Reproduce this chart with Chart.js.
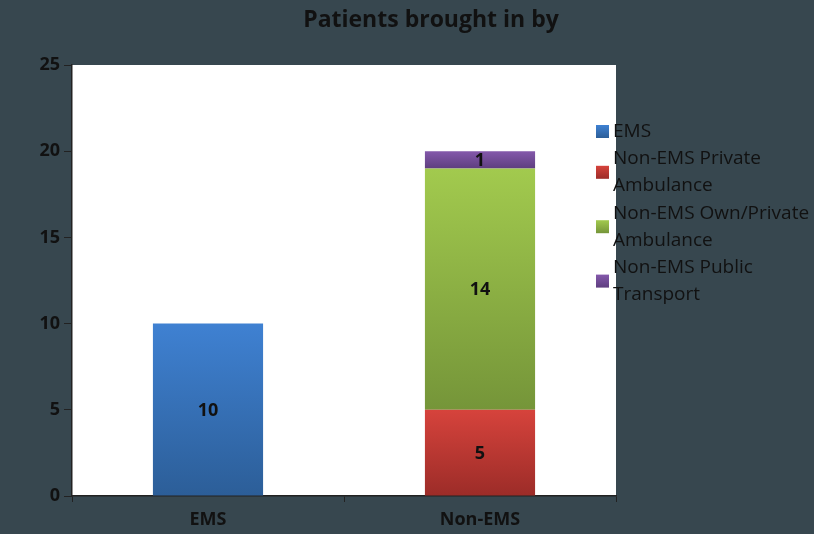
<!DOCTYPE html>
<html>
<head>
<meta charset="utf-8">
<script src="https://cdn.jsdelivr.net/npm/chart.js@4/dist/chart.umd.min.js"></script>
<style>
  html, body { margin: 0; padding: 0; background: #37474f; }
  #wrap { width: 814px; height: 534px; position: relative; }
</style>
</head>
<body>
<div id="wrap"><canvas id="chart" width="814" height="534"></canvas></div>
<script>
// ===============================
// Data
// ===============================
const categories = ["EMS", "Non-EMS"];
const seriesNames = ["EMS", "Non-EMS Private Ambulance", "Non-EMS Own/Private Ambulance", "Non-EMS Public Transport"];
const emsValues = [10, null];
const privateAmbulanceValues = [null, 5];
const ownPrivateValues = [null, 14];
const publicTransportValues = [null, 1];
const yTicks = [0, 5, 10, 15, 20, 25];
const chartTitle = "Patients brought in by";

// top / bottom gradient colours per series
const seriesColors = [
	["#3f81d2", "#2c5e98"],
	["#d6433c", "#9c2c28"],
	["#a2ca4e", "#759539"],
	["#8459ab", "#5e3e7f"]
];

const FONT = "'Open Sans', sans-serif";

// ===============================
// Gradient fill for each stacked segment
// ===============================
function segmentFill(context) {
	const { chart, datasetIndex, dataIndex } = context;
	const colors = seriesColors[datasetIndex];
	const yScale = chart.scales.y;
	if (!chart.chartArea || !yScale) return colors[0];
	let start = 0;
	for (let i = 0; i < datasetIndex; i++) {
		start += chart.data.datasets[i].data[dataIndex] || 0;
	}
	const value = chart.data.datasets[datasetIndex].data[dataIndex] || 0;
	const top = yScale.getPixelForValue(start + value);
	const bottom = yScale.getPixelForValue(start);
	if (!isFinite(top) || !isFinite(bottom) || top === bottom) return colors[0];
	const g = chart.ctx.createLinearGradient(0, top, 0, bottom);
	g.addColorStop(0, colors[0]);
	g.addColorStop(1, colors[1]);
	return g;
}

// ===============================
// Plugins
// ===============================
const plotBackground = {
	id: "plotBackground",
	beforeDraw(chart) {
		const { ctx, chartArea } = chart;
		ctx.save();
		ctx.fillStyle = "#37474f";
		ctx.fillRect(0, 0, chart.width, chart.height);
		ctx.fillStyle = "#ffffff";
		ctx.fillRect(chartArea.left, chartArea.top, chartArea.right - chartArea.left, chartArea.bottom - chartArea.top);
		// title
		ctx.font = "bold 23px " + FONT;
		ctx.fillStyle = "#111111";
		ctx.textAlign = "center";
		ctx.textBaseline = "middle";
		ctx.fillText(chartTitle, 431, 20);
		ctx.restore();
	}
};

const valueLabels = {
	id: "valueLabels",
	afterDatasetsDraw(chart) {
		const { ctx } = chart;
		ctx.save();
		ctx.font = "bold 18px " + FONT;
		ctx.fillStyle = "#111111";
		ctx.textAlign = "center";
		ctx.textBaseline = "middle";
		chart.data.datasets.forEach((ds, di) => {
			const meta = chart.getDatasetMeta(di);
			meta.data.forEach((bar, i) => {
				const v = ds.data[i];
				if (v == null) return;
				const { x, y, base } = bar.getProps(["x", "y", "base"], true);
				ctx.fillText(String(v), x, (y + base) / 2 + 1);
			});
		});
		ctx.restore();
	}
};

function wrapText(ctx, text, maxWidth) {
	const words = text.split(" ");
	const lines = [];
	let line = "";
	words.forEach(w => {
		const test = line ? line + " " + w : w;
		if (ctx.measureText(test).width > maxWidth && line) {
			lines.push(line);
			line = w;
		} else {
			line = test;
		}
	});
	if (line) lines.push(line);
	return lines;
}

const sideLegend = {
	id: "sideLegend",
	afterDraw(chart) {
		const { ctx } = chart;
		const lineH = 27.2;
		let y = 131.5;
		ctx.save();
		ctx.font = "19px " + FONT;
		ctx.textBaseline = "middle";
		ctx.textAlign = "left";
		chart.data.datasets.forEach((ds, di) => {
			const lines = wrapText(ctx, ds.label, 202);
			const mid = y + (lines.length - 1) * lineH / 2;
			const g = ctx.createLinearGradient(0, mid - 6.5, 0, mid + 6.5);
			g.addColorStop(0, seriesColors[di][0]);
			g.addColorStop(1, seriesColors[di][1]);
			ctx.fillStyle = g;
			ctx.fillRect(596, mid - 6.5, 13, 13);
			ctx.fillStyle = "#111111";
			lines.forEach((ln, k) => ctx.fillText(ln, 613, y + k * lineH));
			y += lines.length * lineH;
		});
		ctx.restore();
	}
};

// ===============================
// Chart
// ===============================
const seriesValues = [emsValues, privateAmbulanceValues, ownPrivateValues, publicTransportValues];

new Chart(document.getElementById("chart"), {
	type: "bar",
	data: {
		labels: categories,
		datasets: seriesNames.map((name, i) => ({
			label: name,
			data: seriesValues[i],
			backgroundColor: segmentFill,
			borderWidth: 0,
			categoryPercentage: 1,
			barPercentage: 0.405
		}))
	},
	options: {
		responsive: false,
		animation: false,
		layout: { padding: { left: 0, right: 198, top: 65, bottom: 0 } },
		plugins: {
			legend: { display: false },
			tooltip: { enabled: false },
			title: { display: false }
		},
		scales: {
			x: {
				stacked: true,
				afterFit(scale) { scale.height = 38; },
				border: { display: true, color: "#222222", width: 1.5 },
				grid: { display: true, drawOnChartArea: false, drawTicks: true, tickLength: 6, color: "#222222", offset: true },
				ticks: { color: "#111111", padding: 7, font: { family: FONT, size: 18, weight: "bold" } }
			},
			y: {
				stacked: true,
				min: 0,
				max: 25,
				afterFit(scale) { scale.width = 72; },
				afterBuildTicks(scale) { scale.ticks = yTicks.map(v => ({ value: v })); },
				border: { display: true, color: "#222222", width: 1.5 },
				grid: { display: true, drawOnChartArea: false, drawTicks: true, tickLength: 8, color: "#222222" },
				ticks: { color: "#111111", padding: 4, font: { family: FONT, size: 18, weight: "bold" } }
			}
		}
	},
	plugins: [plotBackground, valueLabels, sideLegend]
});
</script>
</body>
</html>
